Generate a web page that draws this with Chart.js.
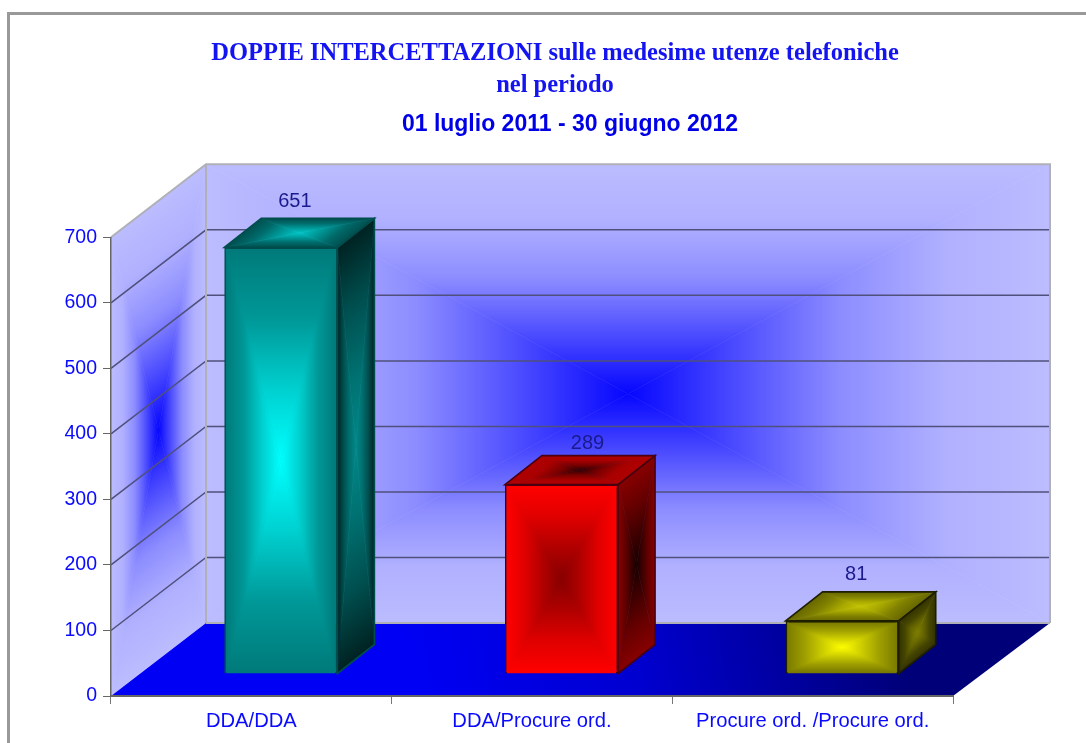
<!DOCTYPE html>
<html><head><meta charset="utf-8">
<script src="https://cdn.jsdelivr.net/npm/chart.js@4"></script>
<style>
html,body{margin:0;padding:0;background:#fff;overflow:hidden}
#w{width:1086px;height:743px;filter:blur(0.6px)}
canvas{display:block}
</style></head><body><div id="w"><canvas id="c" width="1086" height="743"></canvas></div>
<script>
const categories = ["DDA/DDA", "DDA/Procure ord.", "Procure ord. /Procure ord."];
const values = [651, 289, 81];
const titleLines = ["DOPPIE INTERCETTAZIONI sulle medesime utenze telefoniche", "nel periodo"];
const subtitleText = "01 luglio 2011 - 30 giugno 2012";
const yTicks = [0, 100, 200, 300, 400, 500, 600, 700];

const barPalette = [
  {edge:"#004d4d", front:["#007a7a","#009898","#00d0d0","#00ffff"], side:["#002222","#004f4f","#007070","#008888"], top:["#004f4f","#006a6a","#009898","#00c4c4"]},
  {edge:"#4a0010", front:["#ff0000","#e00000","#b00000","#860000"], side:["#880000","#680000","#400000","#180000"], top:["#b00000","#a80000","#780000","#300000"]},
  {edge:"#1e1e00", front:["#7a7a00","#a0a000","#d0d000","#ffff00"], side:["#333300","#454500","#666600","#808000"], top:["#666600","#808000","#a8a800","#c4c400"]}
];
const labelNudge = [[0,0],[12,5],[0,0]];
const wallStops = ["#bcbcff","#b0b0ff","#8c8cff","#4a4aff","#0606ff"];

function gradTri(ctx,a,b,c,stops){
  const ex=b[0]-a[0],ey=b[1]-a[1];
  const t=((c[0]-a[0])*ex+(c[1]-a[1])*ey)/(ex*ex+ey*ey);
  const fx=a[0]+t*ex,fy=a[1]+t*ey;
  const g=ctx.createLinearGradient(fx,fy,c[0],c[1]);
  stops.forEach((s,i)=>g.addColorStop(i/(stops.length-1),s));
  ctx.fillStyle=g;ctx.strokeStyle=g;ctx.lineWidth=0.6;
  ctx.beginPath();ctx.moveTo(a[0],a[1]);ctx.lineTo(b[0],b[1]);ctx.lineTo(c[0],c[1]);ctx.closePath();ctx.fill();ctx.stroke();
}
function pathFace(ctx,q,stops){
  const c=[(q[0][0]+q[2][0])/2,(q[0][1]+q[2][1])/2];
  ctx.save();
  ctx.beginPath();q.forEach((p,i)=>i?ctx.lineTo(p[0],p[1]):ctx.moveTo(p[0],p[1]));ctx.closePath();ctx.clip();
  for(let i=0;i<4;i++)gradTri(ctx,q[i],q[(i+1)%4],c,stops);
  ctx.restore();
}
function poly(ctx,q){ctx.beginPath();q.forEach((p,i)=>i?ctx.lineTo(p[0],p[1]):ctx.moveTo(p[0],p[1]));ctx.closePath();}

const WX=95,WXR=97,WY=-73,OX=29.5,OY=-22,DX=37,DY=-29;
const scene={
  id:"scene",
  afterLayout(chart){
    const s=chart.boxes.find(b=>b.options&&b.options.text===subtitleText);
    if(s){s.left+=15;s.right+=15;}
  },
  beforeDraw(chart){
    const ctx=chart.ctx,a=chart.chartArea,y=chart.scales.y;
    const L=a.left,R=a.right,B=y.getPixelForValue(0),T=y.getPixelForValue(700);
    ctx.save();
    ctx.fillStyle="#999999";
    ctx.fillRect(7,12,1079,3);ctx.fillRect(7,12,3,731);
    pathFace(ctx,[[L+WX,T+WY],[R+WXR,T+WY],[R+WXR,B+WY],[L+WX,B+WY]],wallStops);
    pathFace(ctx,[[L,T],[L+WX,T+WY],[L+WX,B+WY],[L,B]],wallStops);
    const g=ctx.createLinearGradient(420,B+6,900,B+WY);
    g.addColorStop(0,"#0000f4");g.addColorStop(.45,"#0000d0");g.addColorStop(1,"#000078");
    ctx.fillStyle=g;poly(ctx,[[L,B],[R,B],[R+WXR,B+WY],[L+WX,B+WY]]);ctx.fill();
    ctx.strokeStyle="#50507c";ctx.lineWidth=1.5;
    yTicks.slice(1,-1).forEach(v=>{
      const p=y.getPixelForValue(v);
      ctx.beginPath();ctx.moveTo(L,p);ctx.lineTo(L+WX,p+WY);ctx.lineTo(R+WXR,p+WY);ctx.stroke();
    });
    ctx.strokeStyle="#b0b0b8";ctx.lineWidth=2;
    ctx.beginPath();ctx.moveTo(L,T);ctx.lineTo(L+WX,T+WY);ctx.lineTo(R+WXR,T+WY);ctx.lineTo(R+WXR,B+WY);ctx.stroke();
    ctx.beginPath();ctx.moveTo(L+WX,T+WY);ctx.lineTo(L+WX,B+WY);ctx.stroke();
    ctx.beginPath();ctx.moveTo(L+WX,B+WY);ctx.lineTo(R+WXR,B+WY);ctx.stroke();
    ctx.restore();
  },
  beforeDatasetsDraw(chart){
    const ctx=chart.ctx;
    ctx.save();
    chart.getDatasetMeta(0).data.forEach((el,i)=>{
      const p=barPalette[i];
      const l=el.x-el.width/2+OX,r=el.x+el.width/2+OX,t=el.y+OY,b=el.base+OY;
      const side=[[r,t],[r+DX,t+DY],[r+DX,b+DY],[r,b]];
      const top=[[l,t],[l+DX,t+DY],[r+DX,t+DY],[r,t]];
      pathFace(ctx,side,p.side);
      pathFace(ctx,top,p.top);
      ctx.strokeStyle=p.edge;ctx.lineWidth=1.6;
      poly(ctx,side);ctx.stroke();poly(ctx,top);ctx.stroke();
    });
    ctx.translate(OX,OY);
  },
  afterDatasetsDraw(chart){
    const ctx=chart.ctx;
    ctx.restore();
    ctx.save();
    chart.getDatasetMeta(0).data.forEach((el,i)=>{
      const p=barPalette[i],n=1.5;
      const l=el.x-el.width/2+OX+n,r=el.x+el.width/2+OX-n,t=el.y+OY+n,b=el.base+OY-n;
      pathFace(ctx,[[l,t],[r,t],[r,b],[l,b]],p.front);
      ctx.fillStyle="#1a1a8c";
      ctx.font='20px "Liberation Sans"';ctx.textAlign="center";ctx.textBaseline="middle";
      ctx.fillText(String(values[i]),el.x+OX+14+labelNudge[i][0],el.y+OY+DY-17+labelNudge[i][1]);
    });
    ctx.restore();
  }
};

new Chart(document.getElementById("c"),{
  type:"bar",
  data:{labels:categories,datasets:[{
    data:values,
    backgroundColor:barPalette.map(p=>p.front[0]),
    borderColor:barPalette.map(p=>p.edge),
    borderWidth:2,
    categoryPercentage:1,
    barPercentage:0.403
  }]},
  plugins:[scene],
  options:{
    responsive:false,animation:false,
    layout:{padding:{left:24,right:0,top:0,bottom:0}},
    plugins:{
      legend:{display:false},tooltip:{enabled:false},
      title:{display:true,text:titleLines,color:"#1414f0",
        font:{family:'"Liberation Serif"',size:24.5,weight:"bold",lineHeight:1.3},
        padding:{top:38,bottom:9}},
      subtitle:{display:true,text:subtitleText,color:"#0000e6",
        font:{family:'"Liberation Sans"',size:23,weight:"bold",lineHeight:1.2},
        padding:{top:0,bottom:99}}
    },
    scales:{
      x:{
        grid:{display:true,drawOnChartArea:false,drawTicks:true,tickLength:8,color:"#777777",offset:true},
        border:{display:true,color:"#666666",width:2},
        ticks:{color:"#0a0aff",padding:5,maxRotation:0,autoSkip:false,font:{family:'"Liberation Sans"',size:20.2}},
        afterFit(s){s.height=47;}
      },
      y:{
        min:0,max:700,
        grid:{display:true,drawOnChartArea:false,drawTicks:true,tickLength:8,color:"#666666"},
        border:{display:true,color:"#666666",width:1.5},
        ticks:{color:"#0a0aff",padding:6,stepSize:100,font:{family:'"Liberation Sans"',size:19.5}},
        afterFit(s){s.width=87;}
      },
      yR:{
        type:"linear",position:"right",min:0,max:700,
        grid:{display:false},border:{display:false},ticks:{display:false},
        afterFit(s){s.width=133;}
      }
    }
  }
});
</script></body></html>
